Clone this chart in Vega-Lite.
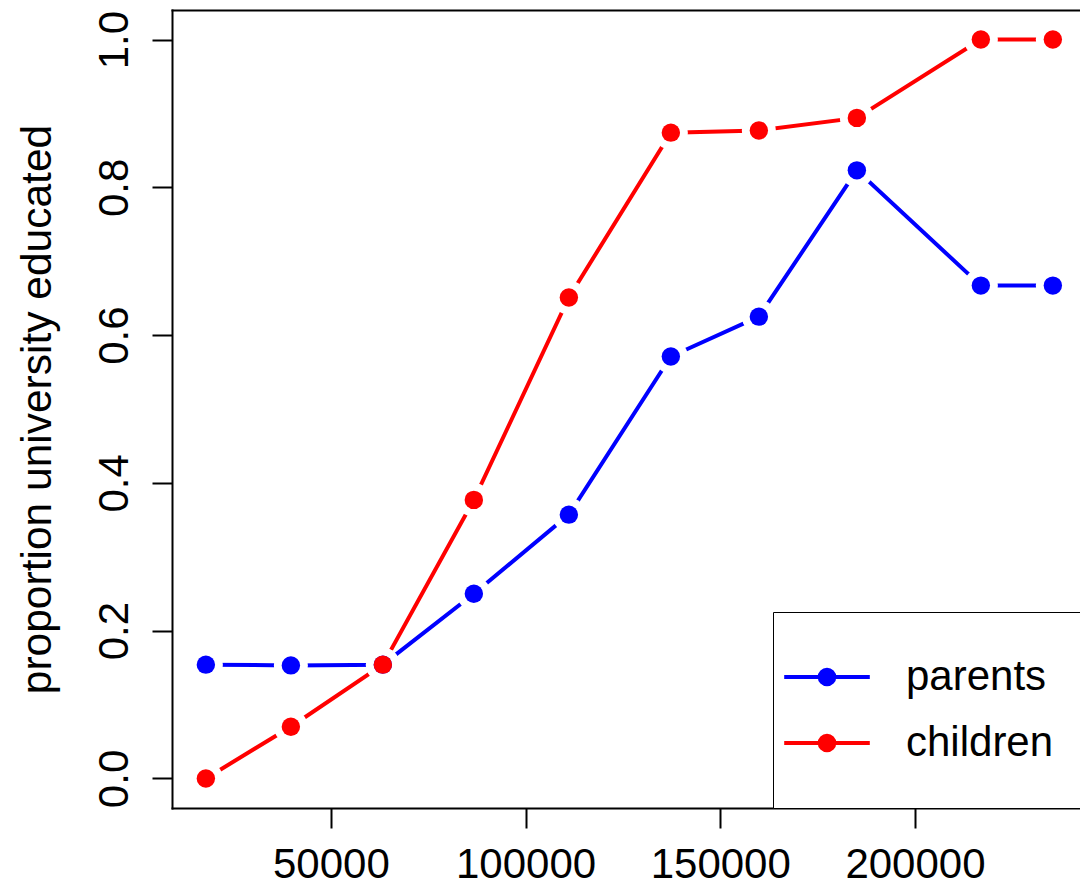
{
  "$schema": "https://vega.github.io/schema/vega-lite/v6.json",
  "width": 908,
  "height": 798,
  "autosize": {"type": "none"},
  "padding": {"left": 172, "top": 10, "right": 0, "bottom": 77},
  "background": "white",
  "config": {
    "view": {"stroke": null},
    "axis": {
      "grid": false,
      "domainColor": "black",
      "domainWidth": 2,
      "domainCap": "square",
      "tickColor": "black",
      "tickWidth": 2,
      "tickSize": 20,
      "labelFont": "Liberation Sans",
      "labelFontSize": 42,
      "labelColor": "black",
      "titleFont": "Liberation Sans",
      "titleFontSize": 42.5,
      "titleFontWeight": "normal",
      "titleColor": "black"
    }
  },
  "data": {
    "values": [
      {"income": 17900, "proportion": 0.154, "group": "parents"},
      {"income": 39730, "proportion": 0.153, "group": "parents"},
      {"income": 63350, "proportion": 0.154, "group": "parents"},
      {"income": 86720, "proportion": 0.250, "group": "parents"},
      {"income": 111120, "proportion": 0.357, "group": "parents"},
      {"income": 137310, "proportion": 0.571, "group": "parents"},
      {"income": 159910, "proportion": 0.625, "group": "parents"},
      {"income": 185080, "proportion": 0.823, "group": "parents"},
      {"income": 216920, "proportion": 0.667, "group": "parents"},
      {"income": 235410, "proportion": 0.667, "group": "parents"},
      {"income": 17900, "proportion": 0.0, "group": "children"},
      {"income": 39730, "proportion": 0.070, "group": "children"},
      {"income": 63350, "proportion": 0.154, "group": "children"},
      {"income": 86720, "proportion": 0.377, "group": "children"},
      {"income": 111120, "proportion": 0.651, "group": "children"},
      {"income": 137310, "proportion": 0.874, "group": "children"},
      {"income": 159910, "proportion": 0.877, "group": "children"},
      {"income": 185080, "proportion": 0.894, "group": "children"},
      {"income": 216920, "proportion": 1.0, "group": "children"},
      {"income": 235410, "proportion": 1.0, "group": "children"}
    ]
  },
  "layer": [
    {
      "mark": {"type": "line", "strokeWidth": 4, "strokeCap": "round", "opacity": 1},
      "encoding": {
        "x": {
          "field": "income", "type": "quantitative",
          "scale": {"domain": [9204, 242383], "nice": false, "zero": false},
          "axis": {"orient": "bottom", "values": [50000, 100000, 150000, 200000], "format": "d", "labelPadding": 49, "labelBaseline": "alphabetic", "labelAlign": "center", "labelFlush": false, "labelOverlap": false, "title": null}
        },
        "y": {
          "field": "proportion", "type": "quantitative",
          "scale": {"domain": [-0.04, 1.04], "nice": false, "zero": false},
          "axis": {"values": [0, 0.2, 0.4, 0.6, 0.8, 1.0], "format": ".1f", "labelAngle": -90, "labelAlign": "center", "labelBaseline": "alphabetic", "labelPadding": 25, "labelOverlap": false, "labelFlush": false, "title": "proportion university educated", "titleAngle": -90, "titleAlign": "center", "titleBaseline": "alphabetic", "titleX": -122, "titleY": 399}
        },
        "color": {
          "field": "group", "type": "nominal",
          "scale": {"domain": ["parents", "children"], "range": ["#0000ff", "#ff0000"]},
          "legend": {
            "orient": "none", "legendX": 601, "legendY": 602,
            "title": null, "padding": 44,
            "strokeColor": "black", "fillColor": "white",
            "symbolType": "M-4.28,0H4.28M0.73,0A0.73,0.73,0,1,1,-0.73,0A0.73,0.73,0,1,1,0.73,0",
            "symbolSize": 400, "symbolStrokeWidth": 4, "symbolOffset": -11,
            "labelOffset": 58, "labelFont": "Liberation Sans", "labelFontSize": 42, "labelColor": "black",
            "rowPadding": 24,
            "encode": {
              "symbols": {"update": {"fill": {"scale": "color", "field": "value"}, "stroke": {"scale": "color", "field": "value"}, "opacity": {"value": 1}}},
              "legend": {"update": {"strokeWidth": {"value": 2}}}
            }
          }
        }
      }
    },
    {
      "mark": {"type": "point", "filled": true, "shape": "circle", "size": 1156, "color": "white", "opacity": 1, "strokeWidth": 0},
      "encoding": {
        "x": {"field": "income", "type": "quantitative", "axis": {"orient": "top", "ticks": false, "labels": false, "title": null, "domain": true}},
        "y": {"field": "proportion", "type": "quantitative", "axis": null},
        "detail": {"field": "group", "type": "nominal"}
      }
    },
    {
      "mark": {"type": "point", "filled": true, "shape": "circle", "size": 339, "opacity": 1, "strokeWidth": 0},
      "encoding": {
        "x": {"field": "income", "type": "quantitative", "axis": null},
        "y": {"field": "proportion", "type": "quantitative", "axis": null},
        "color": {"field": "group", "type": "nominal"}
      }
    }
  ],
  "resolve": {"axis": {"x": "independent", "y": "independent"}}
}
